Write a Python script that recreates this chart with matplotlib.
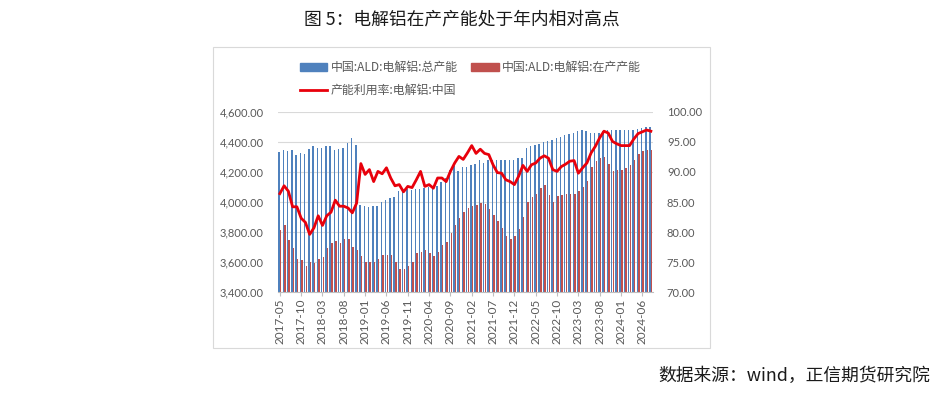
import numpy as np
import matplotlib
matplotlib.use("Agg")
import matplotlib.pyplot as plt
from matplotlib.patches import Rectangle
from matplotlib.lines import Line2D
from matplotlib.patches import Patch

# monthly data, 2017-05 .. 2024-08
months = [f"{y}-{m:02d}" for y in range(2017, 2025) for m in range(1, 13)]
months = months[months.index("2017-05"):months.index("2024-08") + 1]

total_cap = [4330, 4348, 4338, 4348, 4316, 4326, 4321, 4356, 4371, 4360,
             4360, 4371, 4371, 4349, 4353, 4360, 4393, 4427, 4380, 3982,
             3975, 3965, 3975, 3972, 3998, 4012, 4027, 4031, 4070, 4077,
             4084, 4082, 4086, 4088, 4092, 4100, 4100, 4104, 4130, 4160,
             4210, 4240, 4208, 4230, 4236, 4244, 4253, 4282, 4262, 4282,
             4282, 4282, 4282, 4282, 4282, 4282, 4290, 4293, 4358, 4376,
             4382, 4387, 4400, 4409, 4416, 4427, 4436, 4445, 4455, 4462,
             4471, 4482, 4471, 4460, 4460, 4460, 4471, 4482, 4478, 4478,
             4478, 4478, 4478, 4478, 4485, 4493, 4498, 4498]

running_cap = [3815, 3848, 3748, 3692, 3621, 3615, 3575, 3598, 3592, 3619,
               3636, 3692, 3728, 3739, 3728, 3752, 3752, 3699, 3681, 3639,
               3601, 3597, 3603, 3620, 3648, 3648, 3646, 3600, 3555, 3555,
               3570, 3600, 3660, 3665, 3678, 3662, 3640, 3665, 3713, 3735,
               3793, 3849, 3893, 3930, 3960, 3975, 3980, 3995, 3985, 3955,
               3916, 3870, 3825, 3775, 3753, 3775, 3820, 3900, 4000, 4035,
               4055, 4090, 4110, 4045, 4000, 4040, 4045, 4055, 4055, 4050,
               4070, 4100, 4140, 4230, 4275, 4295, 4300, 4250, 4205, 4210,
               4215, 4225, 4245, 4280, 4320, 4340, 4349, 4349]

util_rate = [86.4, 87.7, 86.8, 84.2, 84.2, 82.3, 81.6, 79.6, 80.7, 82.7,
             81.1, 82.7, 83.3, 85.3, 84.3, 84.3, 84.0, 83.2, 84.8, 91.4,
             89.6, 90.4, 88.4, 90.1, 89.7, 90.7, 89.0, 87.7, 87.9, 86.7,
             87.6, 87.4, 88.7, 90.1, 87.6, 87.9, 87.3, 89.0, 89.0, 88.4,
             90.1, 91.5, 92.6, 92.1, 93.2, 94.4, 93.1, 93.8, 93.1, 92.9,
             91.2, 89.9, 89.8, 88.7, 88.4, 87.9, 89.3, 91.1, 90.1, 91.2,
             91.5, 92.3, 92.7, 92.3, 90.4, 90.1, 90.9, 91.3, 91.8, 91.9,
             89.8, 90.7, 91.5, 93.2, 94.3, 95.7, 96.8, 96.5, 95.1, 94.7,
             94.4, 94.4, 94.4, 95.5, 96.4, 96.7, 97.0, 96.8]

CJK = ["Noto Sans CJK SC", "DejaVu Sans"]
NUM = ["Lato", "DejaVu Sans"]
GRAY = "#595959"
BLUE = "#4F81BD"; RED = "#C0504D"; LINE = "#E8000B"

fig = plt.figure(figsize=(9.39, 3.96), dpi=100, facecolor="white")

# chart frame
fig.patches.append(Rectangle((213 / 939, 1 - 348 / 396), (710 - 213) / 939, (348 - 47) / 396,
                             transform=fig.transFigure, fill=False, ec="#D9D9D9", lw=0.8))

ax = fig.add_axes([277.7 / 939, 1 - 292 / 396, (653 - 277.7) / 939, 180 / 396])
x = np.arange(len(months))
w = 0.34
ax.bar(x - 0.19, total_cap, width=w, color=BLUE, zorder=2)
ax.bar(x + 0.19, running_cap, width=w, color=RED, zorder=2)
ax.set_ylim(3400, 4600)
ax.set_yticks(np.arange(3400, 4601, 200))
ax.set_yticklabels([f"{v:,.2f}" for v in np.arange(3400, 4601, 200)],
                   family=NUM, fontsize=8, color=GRAY)
ax.set_xlim(-0.5, len(months) - 0.5)
ax.set_xticks(x[::5])
ax.set_xticklabels(months[::5], rotation=90, family=NUM, fontsize=8.5, color=GRAY)
ax.grid(axis="y", color="#D9D9D9", lw=0.8, zorder=0)
ax.set_axisbelow(True)
for s in ("top", "left", "right"):
    ax.spines[s].set_visible(False)
ax.spines["bottom"].set_color("#BFBFBF")
ax.tick_params(axis="y", length=0, pad=10)
ax.tick_params(axis="x", length=3, color="#BFBFBF", pad=2)

ax2 = ax.twinx()
ax2.plot(x, util_rate, color=LINE, lw=2.0, zorder=5)
ax2.set_ylim(70, 100)
ax2.set_yticks(np.arange(70, 101, 5))
ax2.set_yticklabels([f"{v:.2f}" for v in np.arange(70, 101, 5)],
                    family=NUM, fontsize=8, color=GRAY)
ax2.tick_params(axis="y", length=0, pad=10)
for s in ("top", "left", "right", "bottom"):
    ax2.spines[s].set_visible(False)

handles = [Patch(color=BLUE), Line2D([], [], color=LINE, lw=2),
           Patch(color=RED)]
labels = ["中国:ALD:电解铝:总产能", "产能利用率:电解铝:中国", "中国:ALD:电解铝:在产产能"]
leg = fig.legend(handles, labels, ncol=2, loc="upper left",
                 bbox_to_anchor=(294 / 939, 1 - 55 / 396), frameon=False,
                 prop={"family": CJK, "size": 8.6}, handlelength=2.3,
                 handleheight=0.6, labelspacing=0.8, columnspacing=1.1,
                 handletextpad=0.3, borderpad=0)
for t in leg.get_texts():
    t.set_color(GRAY)

fig.text(462 / 939, 1 - 19 / 396, "图 5：电解铝在产产能处于年内相对高点",
         ha="center", va="center", family=CJK, fontsize=12.8, color="#1a1a1a")
fig.text(930 / 939, 1 - 376 / 396, "数据来源：wind，正信期货研究院",
         ha="right", va="center", family=CJK, fontsize=12.8, color="#1a1a1a")

fig.savefig("out.png", dpi=100, facecolor="white")
